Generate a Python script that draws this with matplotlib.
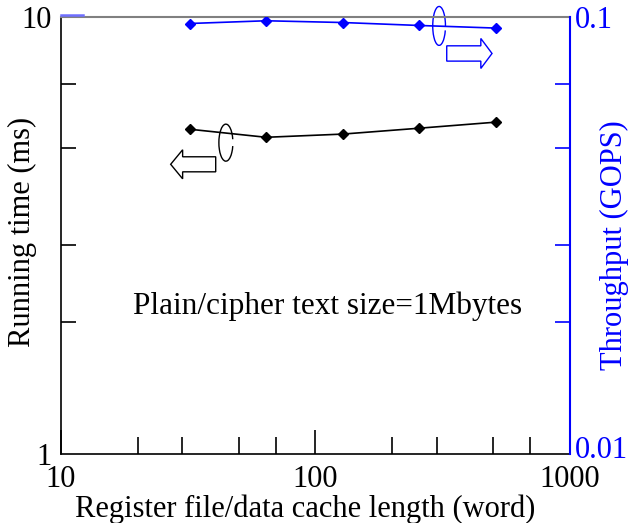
import matplotlib
matplotlib.use("Agg")
import matplotlib.pyplot as plt
from matplotlib.patches import Arc, Polygon
from matplotlib.ticker import FixedLocator, NullFormatter, FixedFormatter
from matplotlib.transforms import blended_transform_factory, ScaledTranslation

plt.rcParams['font.family'] = ['Liberation Serif', 'DejaVu Serif']

# data
sizes = [32, 64, 128, 256, 512]                  # register file / data cache length (word)
run_time = [5.53, 5.30, 5.39, 5.56, 5.74]        # ms
throughput = [0.0965, 0.0979, 0.0970, 0.0955, 0.0942]  # GOPS

x_major = [10, 100, 1000]
x_minor = [20, 30, 50, 70, 200, 300, 500, 700]
y_major = [1, 10]
y_minor = [2, 3, 5, 7]
y2_major = [0.01, 0.1]
y2_labels = ['0.01', '0.1']
y2_minor = [0.02, 0.03, 0.05, 0.07]

blue = '#0000ff'
fs = 22

fig = plt.figure(figsize=(6.29, 5.23), dpi=100)
ax = fig.add_axes([0.097, 0.132, 0.809, 0.836])
ax2 = ax.twinx()

ax.set_xscale('log')
ax.set_yscale('log')
ax2.set_yscale('log')
ax.set_xlim(10, 1000)
ax.set_ylim(1, 10)
ax2.set_ylim(0.01, 0.1)

ax.plot(sizes, run_time, color='black', lw=1.2, marker='D', ms=5, zorder=3)
ax2.plot(sizes, throughput, color=blue, lw=1.2, marker='D', ms=5, zorder=3)

# ticks
ax.xaxis.set_major_locator(FixedLocator(x_major))
ax.xaxis.set_major_formatter(FixedFormatter(['10', '100', '1000']))
ax.xaxis.set_minor_locator(FixedLocator(x_minor))
ax.xaxis.set_minor_formatter(NullFormatter())
ax.yaxis.set_major_locator(FixedLocator(y_major))
ax.yaxis.set_major_formatter(FixedFormatter(['1', '10']))
ax.yaxis.set_minor_locator(FixedLocator(y_minor))
ax.yaxis.set_minor_formatter(NullFormatter())
ax2.yaxis.set_major_locator(FixedLocator(y2_major))
ax2.yaxis.set_major_formatter(NullFormatter())
ax2.yaxis.set_minor_locator(FixedLocator(y2_minor))
ax2.yaxis.set_minor_formatter(NullFormatter())

ax.tick_params(axis='x', which='major', direction='in', length=17, width=1.2,
               labelsize=fs, pad=8, top=False)
ax.tick_params(axis='x', which='minor', direction='in', length=12, width=1.2, top=False)
ax.tick_params(axis='y', which='major', direction='in', length=0, labelsize=fs, pad=7, right=False)
ax.tick_params(axis='y', which='minor', direction='in', length=11, width=1.2, right=False)
ax2.tick_params(axis='y', which='major', direction='in', length=0, colors=blue, left=False)
ax2.tick_params(axis='y', which='minor', direction='in', length=11, width=1.2,
                colors=blue, left=False)

# right axis tick labels, the lower one sits a little above its tick
trans = blended_transform_factory(ax2.transAxes, ax2.transData)
for val, lab in zip(y2_major, y2_labels):
    dy = 5 if val == y2_major[0] else 0
    ax2.text(1.01, val, lab, fontsize=fs, color=blue, ha='left', va='center_baseline',
             transform=trans + ScaledTranslation(0, dy / 72, fig.dpi_scale_trans),
             clip_on=False)

for s in ['left', 'bottom']:
    ax.spines[s].set_linewidth(1.2)
    ax.spines[s].set_color('black')
ax.spines['top'].set_color('#808080')
ax.spines['top'].set_linewidth(1.5)
ax2.spines['top'].set_visible(False)
ax2.spines['left'].set_visible(False)
ax2.spines['bottom'].set_visible(False)
ax.spines['right'].set_visible(False)
ax2.spines['right'].set_color(blue)
ax2.spines['right'].set_linewidth(1.5)

ax.set_xlabel('Register file/data cache length (word)', fontsize=22, labelpad=0)
ax.xaxis.label.set_x(0.479)
fig.text(22 / 629, 1 - 232 / 523, 'Running time (ms)', fontsize=22, rotation=90,
         ha='center', va='center')
fig.text(614 / 629, 1 - 245 / 523, 'Throughput (GOPS)', fontsize=22, rotation=90,
         ha='center', va='center', color=blue)

# short blue major tick of the right axis, drawn on the left by the original
ax.plot([0, 0.043], [1.004, 1.004], transform=ax.transAxes, color='#6f6fff', lw=1.8,
        clip_on=False, zorder=5)

ax.text(0.1415, 0.32, 'Plain/cipher text size=1Mbytes', transform=ax.transAxes,
        fontsize=22.5, va='baseline', ha='left')

# ellipses marking which curve belongs to which axis
ax.add_patch(Arc((0.324, 0.712), 0.0275, 0.0847, theta1=30, theta2=330,
                 transform=ax.transAxes, color='black', lw=1))
ax.add_patch(Arc((0.743, 0.979), 0.025, 0.089, theta1=-10, theta2=320,
                 transform=ax.transAxes, color=blue, lw=1, clip_on=False))


def hollow_arrow(tail, base, tip, yc, sh, hh, color):
    pts = [(tail, yc - sh), (base, yc - sh), (base, yc - hh), (tip, yc),
           (base, yc + hh), (base, yc + sh), (tail, yc + sh)]
    ax.add_patch(Polygon(pts, closed=True, fill=False, edgecolor=color, lw=1,
                         transform=ax.transAxes))


hollow_arrow(0.304, 0.239, 0.2155, 0.6625, 0.0172, 0.0332, 'black')
hollow_arrow(0.758, 0.825, 0.847, 0.916, 0.0175, 0.0343, blue)

fig.savefig('out.png', dpi=100)
